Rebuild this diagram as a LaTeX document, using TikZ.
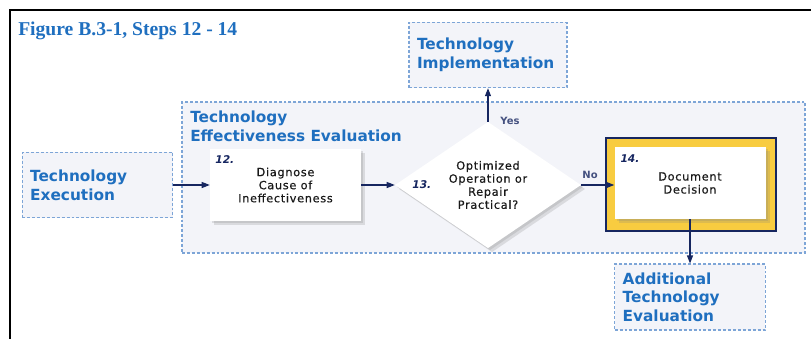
\documentclass[tikz,border=0pt]{standalone}
\usepackage{fontspec}
\usepackage{tikz}
\usetikzlibrary{arrows.meta,positioning,shapes.geometric,shadows}
\setmainfont{DejaVu Sans}
\newfontfamily\figfont{Liberation Serif}
\newfontfamily\stepfont[LetterSpace=6,FakeBold=0.4]{DejaVu Sans}
\definecolor{figblue}{RGB}{31,111,191}
\definecolor{dashblue}{RGB}{125,165,215}
\definecolor{panelgray}{RGB}{243,244,249}
\definecolor{flownavy}{RGB}{22,38,96}
\definecolor{decgold}{RGB}{248,204,64}
\newcommand{\bluelbl}{\fontsize{11.5}{14}\selectfont\bfseries}
\newcommand{\steptxt}{\stepfont\fontsize{8.5}{9.8}\selectfont}

\begin{document}
\begin{tikzpicture}[x=0.75pt,y=-0.75pt,
  bluebox/.style={draw=dashblue, line width=0.8pt, dash pattern=on 2.2pt off 1.5pt, fill=panelgray,
    text=figblue, font=\bluelbl, align=left, inner xsep=6pt, text width=101pt, minimum height=49pt},
  stepbox/.style={fill=white, text=black!90, font=\steptxt, align=center, minimum width=113.25pt, minimum height=53.5pt,
    drop shadow={shadow xshift=3pt, shadow yshift=-3pt, opacity=.22},
    drop shadow={shadow xshift=1.5pt, shadow yshift=-1.5pt, opacity=.22}},
  decision/.style={stepbox, diamond, inner sep=0pt, minimum width=139.5pt, minimum height=88.5pt},
  stepno/.style={text=flownavy, font=\fontsize{8}{8}\selectfont\bfseries\itshape, inner sep=0pt},
  answer/.style={text=flownavy!80, font=\fontsize{7.5}{8}\selectfont\bfseries, inner sep=0pt},
  flow/.style={draw=flownavy, line width=0.8pt, -{Triangle[length=6pt,width=4.5pt]}}]

  \useasboundingbox (0,0) rectangle (811,339);
  \draw[line width=1.6pt] (10,339) |- (811,10);
  \node[anchor=base west, inner sep=0pt, text=figblue, font=\figfont\fontsize{14.7}{16}\selectfont\bfseries] (figtitle) at (18,36) {Figure B.3-1, Steps 12 - 14};

  \node[bluebox, minimum width=467.25pt, minimum height=113.25pt] (evalgroup) at (493.5,177.5) {};
  \node[anchor=north west, inner sep=0pt, text=figblue, font=\bluelbl, align=left] (evaltitle) at (190,111) {Technology\\Effectiveness Evaluation};

  \node[bluebox] (execution) at (97.5,185) {Technology\\Execution};
  \node[bluebox, text width=106.5pt] (implementation) at (488,55) {Technology\\Implementation};
  \node[bluebox, minimum height=49.5pt] (additional) at (690,297) {Additional\\Technology\\Evaluation};

  \node[stepbox] (n12) at (285.5,185) {Diagnose\\Cause of\\Ineffectiveness};
  \node[stepno, below right=5pt and 4pt of n12.north west] (no12) {12.};

  \node[decision] (d13) at (488,185) {Optimized\\Operation or\\Repair\\Practical?};
  \node[stepno, right=13pt of d13.west] (no13) {13.};

  \node[draw=flownavy, line width=1.6pt, fill=decgold, minimum width=127.5pt, minimum height=69.75pt] (n14frame) at (691,184.5) {};
  \node[stepbox, minimum height=54pt] (n14) at (690,183) {Document\\Decision};
  \node[stepno, below right=6pt and 4.5pt of n14.north west] (no14) {14.};

  \draw[flow] (execution.east) -- (execution.east -| n12.west);
  \draw[flow] (n12.east) -- (n12.east -| d13.west);
  \draw[flow] (d13.east) -- (d13.east -| n14.west);
  \draw[flow] (d13.north) -- (implementation.south);
  \draw[flow] (n14.south) -- (additional.north);
  \node[answer] (yeslbl) at (510,121) {Yes};
  \node[answer] (nolbl) at (590,175) {No};
\end{tikzpicture}
\end{document}
